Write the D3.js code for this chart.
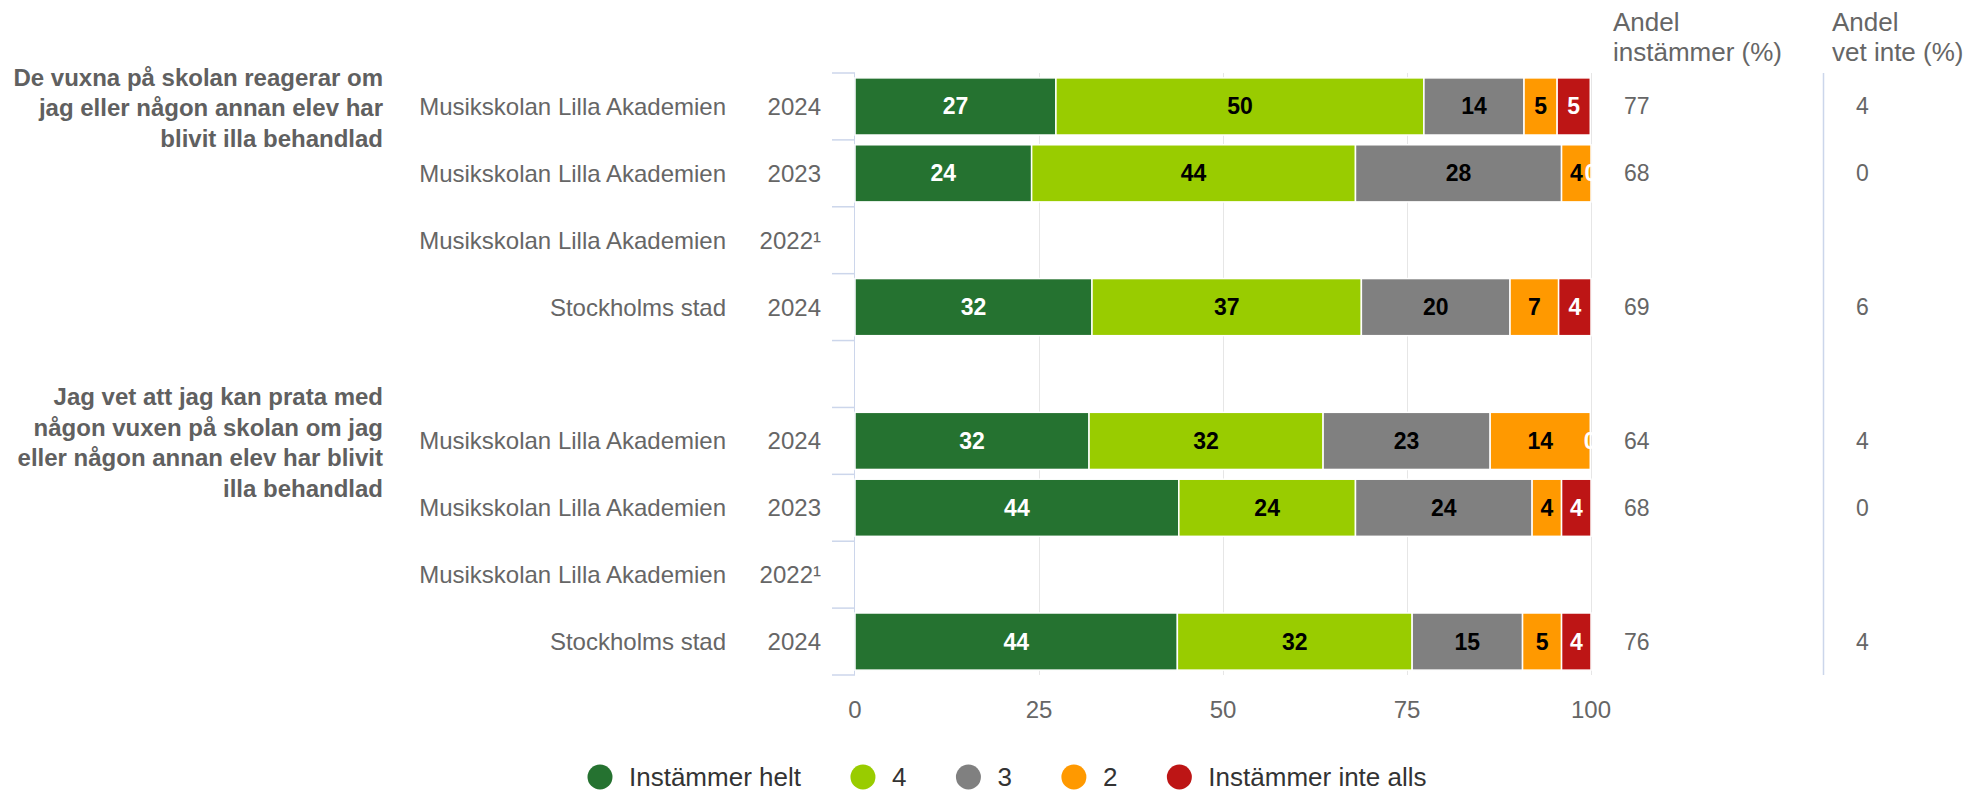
<!DOCTYPE html>
<html>
<head>
<meta charset="utf-8">
<title>Stacked bars</title>
<script src="https://d3js.org/d3.v7.min.js"></script>
<style>
    body { margin: 0; background: #fff; }
    svg text { font-family: "Liberation Sans", Arial, sans-serif; }
    .cat { font-size: 24px; fill: #666; }
    .question { font-size: 24px; font-weight: bold; fill: #606060; }
    .head { font-size: 26px; fill: #666; }
    .val { font-size: 23px; fill: #666; }
    .tick-label { font-size: 24px; fill: #666; }
    .dl { font-size: 23px; font-weight: bold; }
    .legend-text { font-size: 26px; fill: #333; }
</style>
</head>
<body>
<div id="chart"></div>
<script>
// data
const questionLines = [
    ["De vuxna på skolan reagerar om", "jag eller någon annan elev har", "blivit illa behandlad"],
    ["Jag vet att jag kan prata med", "någon vuxen på skolan om jag", "eller någon annan elev har blivit", "illa behandlad"]
];
const units = ["Musikskolan Lilla Akademien", "Musikskolan Lilla Akademien", "Musikskolan Lilla Akademien", "Stockholms stad"];
const years = ["2024", "2023", "2022¹", "2024"];
const seriesNames = ["Instämmer helt", "4", "3", "2", "Instämmer inte alls"];
const seriesColors = ["#257230", "#99cc00", "#808080", "#ff9900", "#bd1515"];
const labelColors = ["#fff", "#000", "#000", "#000", "#fff"];

const q1Values = [[27.3, 50, 13.6, 4.5, 4.5], [24, 44, 28, 4, 0], null, [32.2, 36.6, 20.2, 6.6, 4.4]];
const q2Values = [[31.8, 31.8, 22.7, 13.6, 0], [44, 24, 24, 4, 4], null, [43.8, 31.9, 15.0, 5.3, 4.0]];
const q1Agree = [77, 68, null, 69];
const q2Agree = [64, 68, null, 76];
const q1DontKnow = [4, 0, null, 6];
const q2DontKnow = [4, 0, null, 4];
const xTicks = [0, 25, 50, 75, 100];

const width = 1973, height = 792;

// rows: 4 per question with an empty row in between
const rows = [];
[[q1Values, q1Agree, q1DontKnow], [q2Values, q2Agree, q2DontKnow]].forEach(([vals, agree, dk], q) => {
    if (q > 0) rows.push({ id: "gap" + q, spacer: true });
    vals.forEach((v, i) => rows.push({
        id: `q${q}-${i}`, q, i, values: v, unit: units[i], year: years[i], agree: agree[i], dk: dk[i]
    }));
});

const svg = d3.select("#chart").append("svg")
    .attr("width", width)
    .attr("height", height);

const x = d3.scaleLinear().domain([0, 100]).range([855, 1591]);
const y = d3.scaleBand()
    .domain(rows.map(d => d.id))
    .range([73, 675])
    .paddingInner(0.146)
    .paddingOuter(0.073);
const step = y.step();
const bandTop = id => y(id) - step * y.paddingInner() / 2;
const plotTop = y.range()[0], plotBottom = y.range()[1];

// grid lines
svg.append("g").selectAll("line")
    .data(xTicks.slice(1))
    .join("line")
    .attr("x1", d => x(d) + 0.5).attr("x2", d => x(d) + 0.5)
    .attr("y1", plotTop).attr("y2", plotBottom)
    .attr("stroke", "#e6e6e6");

// category axis line + ticks
svg.append("line")
    .attr("x1", 854.5).attr("x2", 854.5)
    .attr("y1", plotTop).attr("y2", plotBottom)
    .attr("stroke", "#ccd6eb");
const boundaries = rows.map(d => bandTop(d.id)).concat([bandTop(rows[rows.length - 1].id) + step]);
svg.append("g").selectAll("line")
    .data(boundaries)
    .join("line")
    .attr("x1", 832).attr("x2", 855)
    .attr("y1", d => d).attr("y2", d => d)
    .attr("stroke", "#ccd6eb")
    .attr("stroke-width", 1.5);

// x tick labels
svg.append("g").selectAll("text")
    .data(xTicks)
    .join("text")
    .attr("class", "tick-label")
    .attr("x", d => x(d))
    .attr("y", 718)
    .attr("text-anchor", "middle")
    .text(d => d);

const dataRows = rows.filter(d => !d.spacer);
const mid = d => y(d.id) + y.bandwidth() / 2;

// category labels
svg.append("g").selectAll("text")
    .data(dataRows)
    .join("text")
    .attr("class", "cat")
    .attr("x", 726).attr("y", d => mid(d) + 8.5)
    .attr("text-anchor", "end")
    .text(d => d.unit);
svg.append("g").selectAll("text")
    .data(dataRows)
    .join("text")
    .attr("class", "cat")
    .attr("x", 821).attr("y", d => mid(d) + 8.5)
    .attr("text-anchor", "end")
    .text(d => d.year);

// question labels, centered on first row of each group
questionLines.forEach((lines, q) => {
    const c = mid(dataRows.find(d => d.q === q && d.i === 0));
    const t = svg.append("text")
        .attr("class", "question")
        .attr("text-anchor", "end");
    lines.forEach((line, k) => {
        t.append("tspan")
            .attr("x", 383)
            .attr("y", c + (k - (lines.length - 1) / 2) * 30.5 + 10)
            .text(line);
    });
});

// stacked bars
const segs = [];
dataRows.filter(d => d.values).forEach(d => {
    let acc = 0;
    d.values.forEach((v, s) => {
        segs.push({ row: d, s, x0: acc, x1: acc + v, v });
        acc += v;
    });
});

svg.append("g").selectAll("rect")
    .data(segs.filter(d => d.v > 0))
    .join("rect")
    .attr("x", d => x(d.x0))
    .attr("width", d => x(d.x1) - x(d.x0))
    .attr("y", d => y(d.row.id))
    .attr("height", y.bandwidth())
    .attr("fill", d => seriesColors[d.s])
    .attr("stroke", "#fff")
    .attr("stroke-width", 1.5);

svg.append("clipPath").attr("id", "plot-clip")
    .append("rect")
    .attr("x", x(0)).attr("y", plotTop)
    .attr("width", x(100) - x(0) + 1).attr("height", plotBottom - plotTop);

svg.append("g")
    .attr("clip-path", "url(#plot-clip)")
    .selectAll("text")
    .data(segs)
    .join("text")
    .attr("class", "dl")
    .attr("x", d => (x(d.x0) + x(d.x1)) / 2)
    .attr("y", d => mid(d.row) + 8)
    .attr("text-anchor", "middle")
    .attr("fill", d => labelColors[d.s])
    .text(d => Math.round(d.v));

// right-hand columns
const head1 = svg.append("text").attr("class", "head");
head1.append("tspan").attr("x", 1613).attr("y", 31).text("Andel");
head1.append("tspan").attr("x", 1613).attr("y", 61).text("instämmer (%)");
const head2 = svg.append("text").attr("class", "head");
head2.append("tspan").attr("x", 1832).attr("y", 31).text("Andel");
head2.append("tspan").attr("x", 1832).attr("y", 61).text("vet inte (%)");

svg.append("line")
    .attr("x1", 1823.5).attr("x2", 1823.5)
    .attr("y1", plotTop).attr("y2", plotBottom)
    .attr("stroke", "#ccd6eb")
    .attr("stroke-width", 1.5);

svg.append("g").selectAll("text")
    .data(dataRows.filter(d => d.agree != null))
    .join("text")
    .attr("class", "val")
    .attr("x", 1624).attr("y", d => mid(d) + 8)
    .text(d => d.agree);
svg.append("g").selectAll("text")
    .data(dataRows.filter(d => d.dk != null))
    .join("text")
    .attr("class", "val")
    .attr("x", 1856).attr("y", d => mid(d) + 8)
    .text(d => d.dk);

// legend
const legend = svg.append("g");
let lx = 600;
seriesNames.forEach((name, s) => {
    legend.append("circle")
        .attr("cx", lx).attr("cy", 777)
        .attr("r", 12.5)
        .attr("fill", seriesColors[s]);
    const t = legend.append("text")
        .attr("class", "legend-text")
        .attr("x", lx + 29).attr("y", 786)
        .text(name);
    lx += 29 + t.node().getComputedTextLength() + 62;
});
</script>
</body>
</html>
